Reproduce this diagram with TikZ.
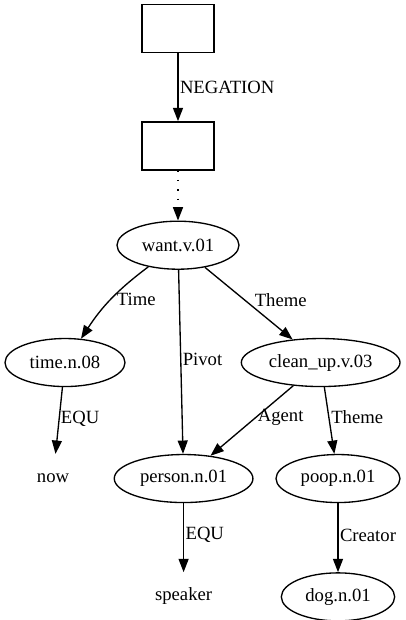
\documentclass[tikz,border=0pt]{standalone}
\usepackage{fontspec}
\setmainfont{Liberation Serif}
\usetikzlibrary{
	arrows.meta,shapes.geometric,positioning
}
\tikzset{
	auto,
	frame/.style={
		rectangle, minimum width=54pt, minimum height=36pt,
		draw=black, line width=1pt
	},
	%
	concept/.style={
		ellipse, minimum height=36pt, inner sep=0pt,
		draw=black, line width=1pt
	},
	%
	plain/.style={
		rectangle, minimum height=36pt, inner sep=0pt
	},
	%
	rel/.style={
		line width=1pt, -{Triangle[length=10pt, width=7.5pt]}
	},
	%
	rellabel/.style={
		right, inner sep=1pt
	}
}

\begin{document}
\begin{tikzpicture}[font=\fontsize{14}{16.8}\selectfont]
\useasboundingbox (-133.5pt,21.4pt) rectangle (171pt,-443.6pt);
\node(neg1)[frame] at (0,0) {};
\node(neg2)[frame, below=51pt of neg1] {};
\draw[rel] (neg1) -- node [rellabel] {NEGATION} (neg2);
\node(want)[concept, below=37.5pt of neg2, minimum width=91.5pt] {want.v.01};
\draw[rel, dash pattern=on 1pt off 6pt] (neg2) -- (want);
\node(time)[concept, below=51pt of want, xshift=-84.75pt, minimum width=90pt] {time.n.08};
\node(clean)[concept, below=51pt of want, xshift=107pt, minimum width=119pt] {clean\_up.v.03};
\node(now)[plain, below=50pt of time, xshift=-9pt] {now};
\node(person)[concept, below=50pt of clean, xshift=-102.8pt, minimum width=104pt] {person.n.01};
\node(poop)[concept, below=50pt of clean, xshift=13pt, minimum width=93pt] {poop.n.01};
\node(speaker)[plain, below=51.75pt of person] {speaker};
\node(dog)[concept, below=51.75pt of poop, minimum width=85pt] {dog.n.01};
\draw[rel] (want) to[bend right=10] node [rellabel, inner sep=4pt] {Time} (time);
\draw[rel] (want) -- node [rellabel, yshift=2pt] {Pivot} (person);
\draw[rel] (want) -- node [rellabel, inner sep=4pt, yshift=2.5pt] {Theme} (clean);
\draw[rel] (time) -- node [rellabel, yshift=1pt] {EQU} (now);
\draw[rel] (clean) -- node [rellabel, inner sep=4pt, yshift=2.5pt] {Agent} (person);
\draw[rel] (clean) -- node [rellabel, yshift=2.5pt] {Theme} (poop);
\draw[rel] (person) -- node [rellabel, yshift=2.5pt] {EQU} (speaker);
\draw[rel] (poop) -- node [rellabel, yshift=1.5pt] {Creator} (dog);
\end{tikzpicture}
\end{document}
